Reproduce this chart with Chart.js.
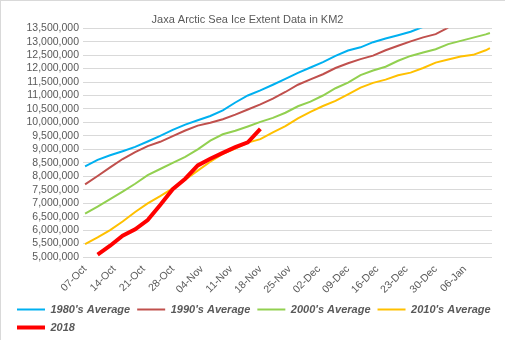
<!DOCTYPE html>
<html>
<head>
<meta charset="utf-8">
<script src="https://cdn.jsdelivr.net/npm/chart.js@4/dist/chart.umd.min.js"></script>
<style>
  html, body { margin: 0; padding: 0; background: #fff; }
  #wrap { position: relative; width: 505px; height: 340px; }
  #frame { position: absolute; left: 0; top: 0; width: 505px; height: 340px; box-sizing: border-box;
           border-top: 1px solid #d9d9d9; border-left: 1px solid #d9d9d9; pointer-events: none; }
</style>
</head>
<body>
<div id="wrap">
  <canvas id="iceChart" width="505" height="340"></canvas>
  <div id="frame"></div>
</div>
<script>
// days counted from 07-Oct
const days = [0, 3, 6, 9, 12, 15, 18, 21, 24, 27, 30, 33, 36, 39, 42, 45, 48, 51, 54, 57,
              60, 63, 66, 69, 72, 75, 78, 81, 84, 87, 90, 93, 96, 97];

const tickDays = [0, 7, 14, 21, 28, 35, 42, 49, 56, 63, 70, 77, 84, 91];
const tickLabels = ['07-Oct', '14-Oct', '21-Oct', '28-Oct', '04-Nov', '11-Nov', '18-Nov',
                    '25-Nov', '02-Dec', '09-Dec', '16-Dec', '23-Dec', '30-Dec', '06-Jan'];

const avg1980s = [8370000, 8610000, 8780000, 8930000, 9090000, 9290000, 9500000, 9720000, 9920000, 10080000,
                  10240000, 10450000, 10740000, 11000000, 11190000, 11400000, 11620000, 11840000, 12040000, 12240000,
                  12470000, 12670000, 12790000, 12980000, 13120000, 13240000, 13370000, 13550000,
                  null, null, null, null, null, null];

const avg1990s = [7700000, 8010000, 8330000, 8640000, 8900000, 9120000, 9280000, 9490000, 9700000, 9880000,
                  9990000, 10120000, 10290000, 10480000, 10670000, 10880000, 11130000, 11400000, 11600000, 11790000,
                  12020000, 12200000, 12350000, 12480000, 12680000, 12850000, 13010000, 13160000, 13280000, 13520000,
                  null, null, null, null];

const avg2000s = [6610000, 6870000, 7150000, 7430000, 7720000, 8040000, 8270000, 8500000, 8720000, 9000000,
                  9320000, 9560000, 9690000, 9850000, 10020000, 10170000, 10360000, 10600000, 10770000, 11000000,
                  11270000, 11480000, 11760000, 11930000, 12070000, 12290000, 12470000, 12600000, 12720000, 12910000,
                  13030000, 13150000, 13270000, 13320000];

const avg2010s = [5480000, 5730000, 6000000, 6320000, 6670000, 6990000, 7260000, 7550000, 7870000, 8210000,
                  8540000, 8830000, 9030000, 9250000, 9380000, 9630000, 9860000, 10150000, 10390000, 10610000,
                  10800000, 11040000, 11290000, 11470000, 11590000, 11750000, 11850000, 12020000, 12220000, 12340000,
                  12450000, 12510000, 12680000, 12760000];

const year2018 = [null, 5090000, 5420000, 5790000, 6030000, 6370000, 6930000, 7520000, 7910000, 8400000,
                  8650000, 8870000, 9080000, 9260000, 9760000,
                  null, null, null, null, null, null, null, null, null, null, null, null, null, null, null,
                  null, null, null, null];

const textGrey = '#595959';
Chart.defaults.font.family = '"Liberation Sans", Arial, sans-serif';

function toPoints(values) {
    return days.map((d, i) => ({ x: d, y: values[i] }));
}

function series(label, values, color, width, order) {
    return {
        label: label,
        data: toPoints(values),
        borderColor: color,
        backgroundColor: color,
        borderWidth: width,
        pointRadius: 0,
        tension: 0,
        spanGaps: false,
        order: order
    };
}

// title sits a little left of the canvas centre in the original
const titleNudge = {
    id: 'titleNudge',
    afterLayout(chart) {
        if (chart.titleBlock) chart.titleBlock.right -= 20;
    }
};

new Chart(document.getElementById('iceChart').getContext('2d'), {
    type: 'line',
    data: {
        datasets: [
            series("1980's Average", avg1980s, '#00B0F0', 2, 4),
            series("1990's Average", avg1990s, '#C0504D', 2, 3),
            series("2000's Average", avg2000s, '#92D050', 2, 2),
            series("2010's Average", avg2010s, '#FFC000', 2, 1),
            series('2018', year2018, '#FF0000', 4, 0)   // drawn on top
        ]
    },
    plugins: [titleNudge],
    options: {
        responsive: false,
        animation: false,
        layout: { padding: { left: 10, right: 0, top: 0, bottom: -3 } },
        plugins: {
            title: {
                display: true,
                text: 'Jaxa Arctic Sea Ice Extent Data in KM2',
                color: textGrey,
                font: { size: 11, weight: 'normal' },
                padding: { top: 13, bottom: 2 }
            },
            legend: {
                position: 'bottom',
                align: 'start',
                labels: {
                    usePointStyle: true,
                    pointStyle: 'line',
                    pointStyleWidth: 28,
                    padding: 7,
                    color: textGrey,
                    font: { size: 11, weight: 'bold', style: 'italic' },
                    sort: (a, b) => a.datasetIndex - b.datasetIndex
                }
            },
            tooltip: { enabled: false }
        },
        scales: {
            x: {
                type: 'linear',
                min: -0.5,
                max: 97.5,
                afterBuildTicks: (scale) => { scale.ticks = tickDays.map(v => ({ value: v })); },
                afterFit: (scale) => { scale.height = 40; },
                ticks: {
                    autoSkip: false,
                    minRotation: 45,
                    maxRotation: 45,
                    padding: -2,
                    color: textGrey,
                    font: { size: 10.5 },
                    callback: (value, i) => tickLabels[i]
                },
                grid: { display: false },
                border: { display: false }
            },
            y: {
                min: 5000000,
                max: 13500000,
                afterFit: (scale) => { scale.width = 73; },
                ticks: {
                    stepSize: 500000,
                    autoSkip: false,
                    padding: 4,
                    color: textGrey,
                    font: { size: 10.5 },
                    callback: (value) => value.toLocaleString('en-US')
                },
                grid: { color: '#d9d9d9', drawTicks: false },
                border: { display: false }
            },
            // empty spacer on the right so the plot stops short of the edge
            spacer: {
                position: 'right',
                min: 0,
                max: 1,
                afterFit: (scale) => { scale.width = 13; },
                ticks: { display: false },
                grid: { display: false },
                border: { display: false }
            }
        }
    }
});
</script>
</body>
</html>
